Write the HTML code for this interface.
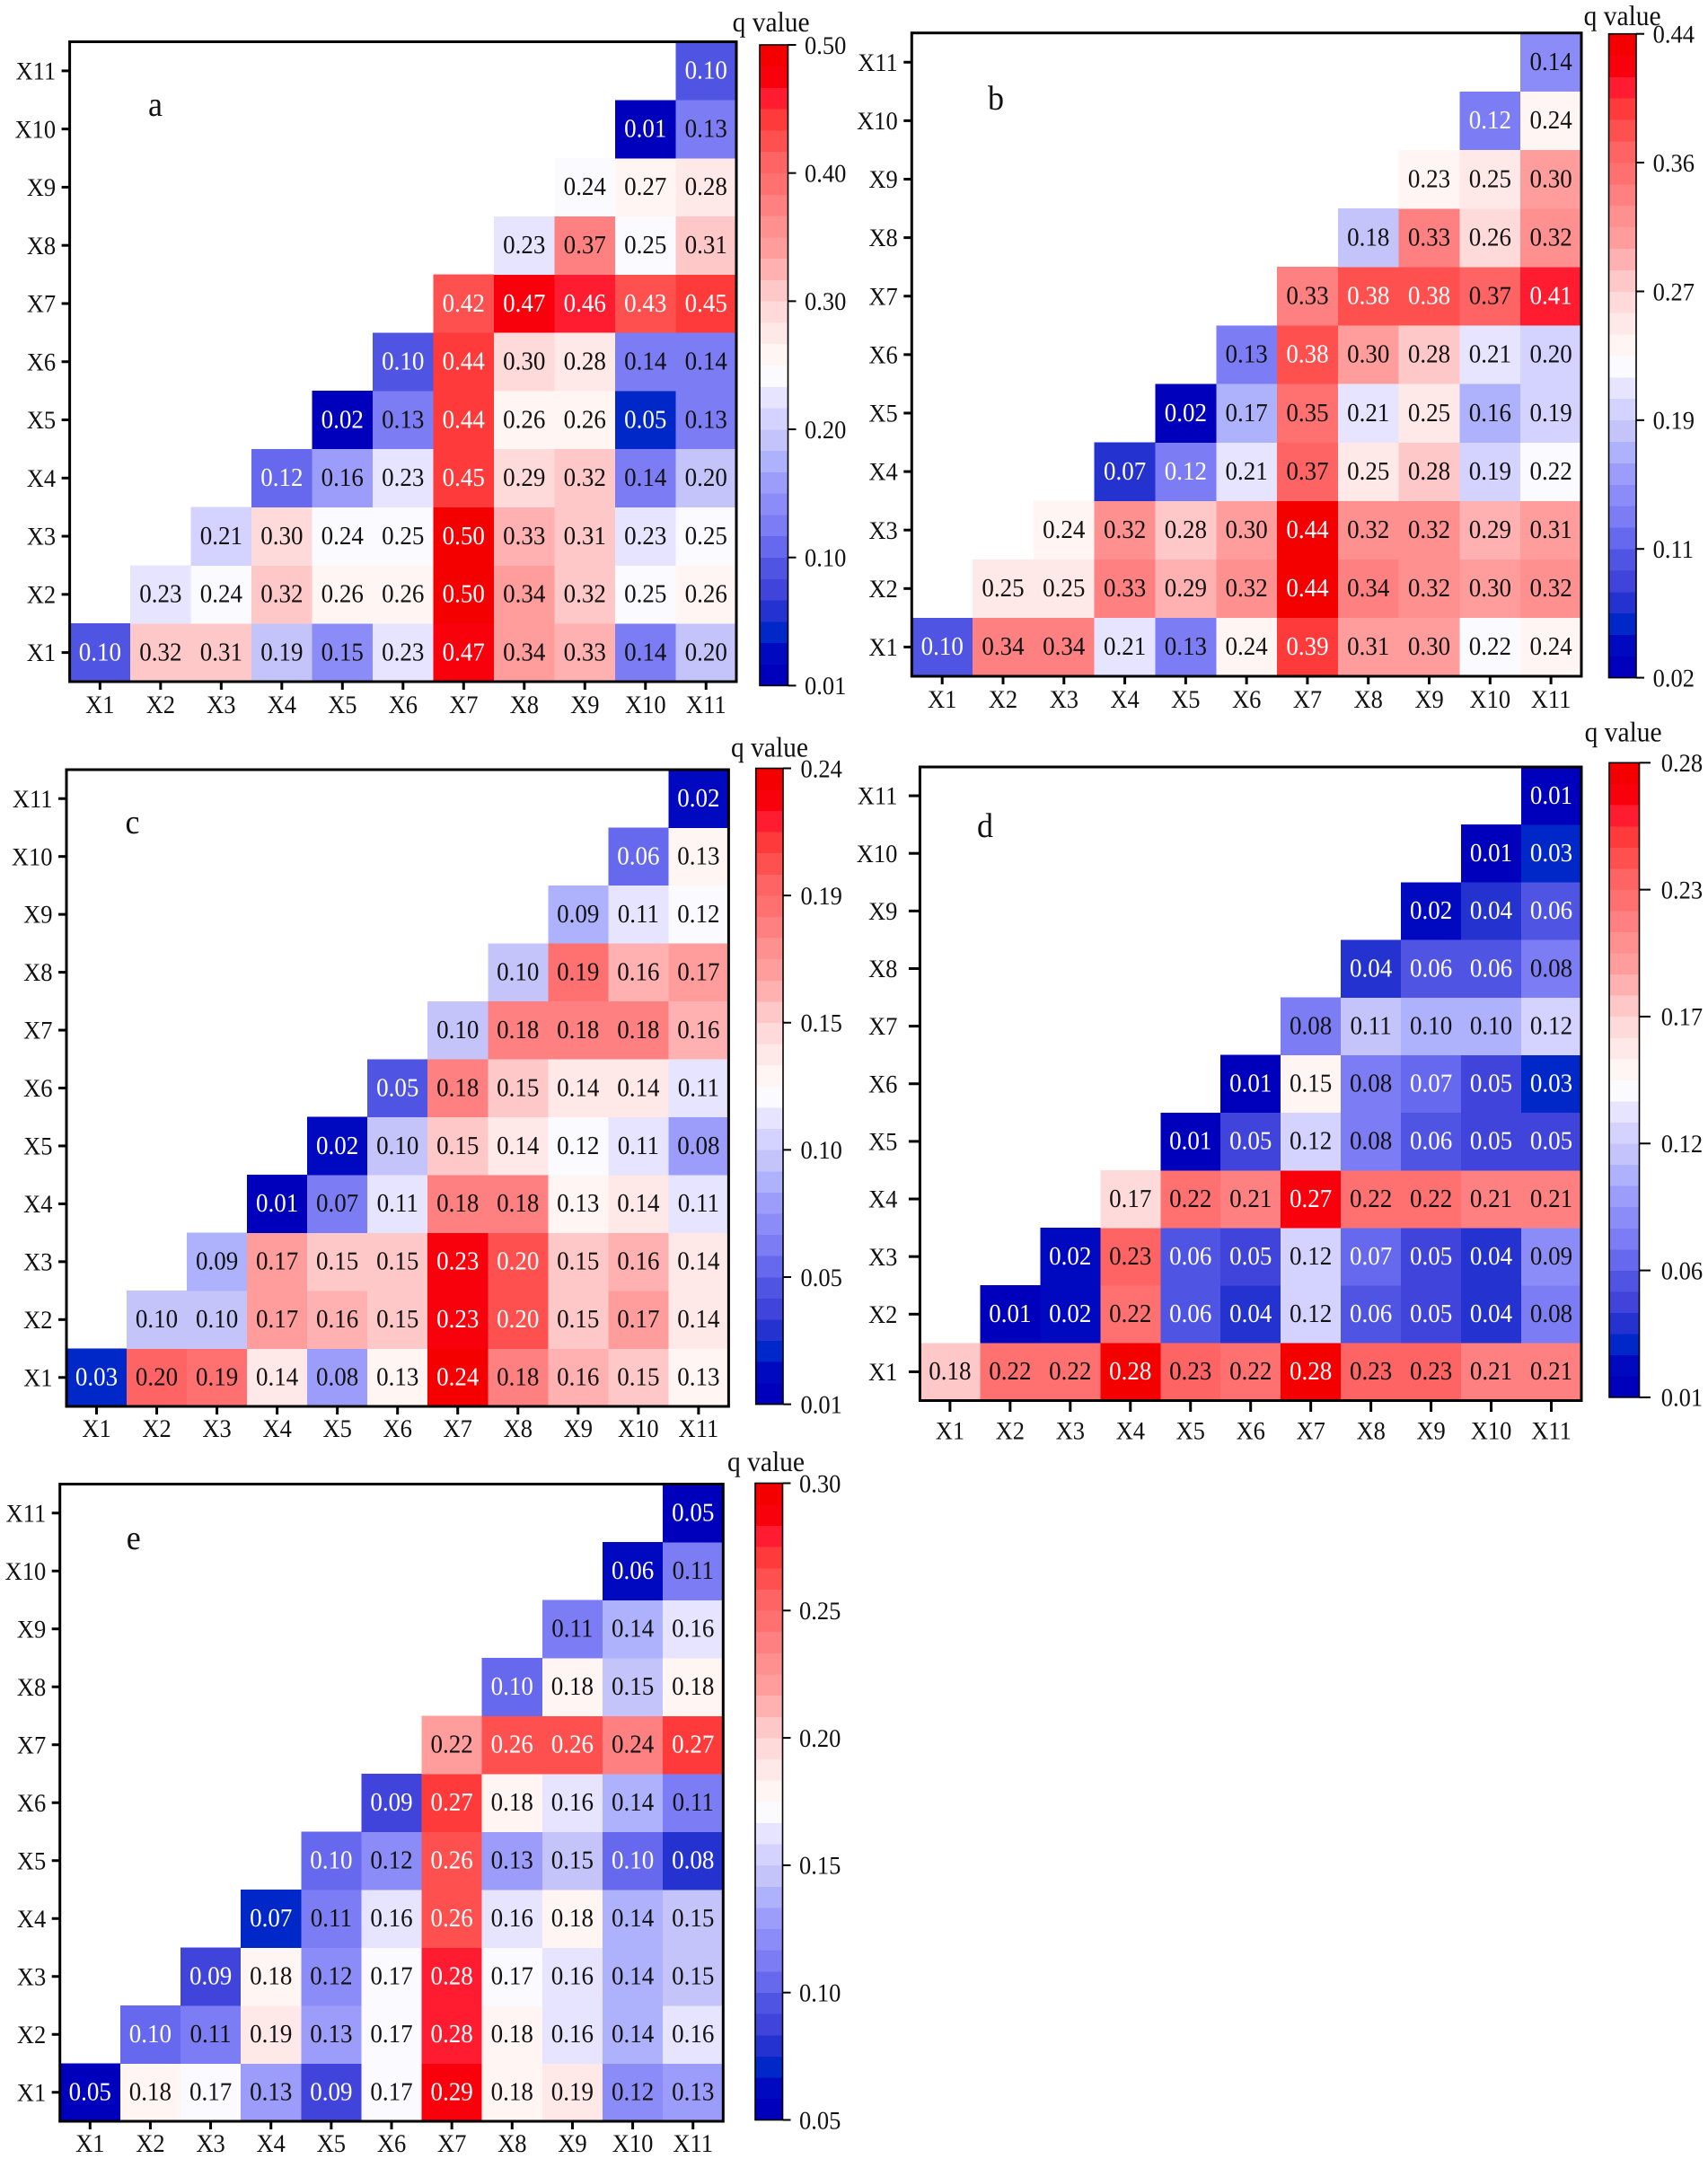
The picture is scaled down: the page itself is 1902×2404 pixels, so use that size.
<!DOCTYPE html>
<html lang="en">
<head>
<meta charset="utf-8">
<title>q value heatmaps</title>
<style>
html,body{margin:0;padding:0;background:#fff;}
#figure{display:block;width:1902px;height:2404px;font-family:"Liberation Serif",serif;text-rendering:geometricPrecision;}
</style>
</head>
<body>
<svg id="figure" xmlns="http://www.w3.org/2000/svg" width="1902" height="2404" viewBox="0 0 1902 2404"></svg>
<script>
const categories = ['X1','X2','X3','X4','X5','X6','X7','X8','X9','X10','X11'];

const rowsA = [
  [0.10,0.32,0.31,0.19,0.15,0.23,0.47,0.34,0.33,0.14,0.20],
  [0.23,0.24,0.32,0.26,0.26,0.50,0.34,0.32,0.25,0.26],
  [0.21,0.30,0.24,0.25,0.50,0.33,0.31,0.23,0.25],
  [0.12,0.16,0.23,0.45,0.29,0.32,0.14,0.20],
  [0.02,0.13,0.44,0.26,0.26,0.05,0.13],
  [0.10,0.44,0.30,0.28,0.14,0.14],
  [0.42,0.47,0.46,0.43,0.45],
  [0.23,0.37,0.25,0.31],
  [0.24,0.27,0.28],
  [0.01,0.13],
  [0.10]
];
const colorTicksA = ['0.01','0.10','0.20','0.30','0.40','0.50'];
const domainA = [0.01,0.50];

const rowsB = [
  [0.10,0.34,0.34,0.21,0.13,0.24,0.39,0.31,0.30,0.22,0.24],
  [0.25,0.25,0.33,0.29,0.32,0.44,0.34,0.32,0.30,0.32],
  [0.24,0.32,0.28,0.30,0.44,0.32,0.32,0.29,0.31],
  [0.07,0.12,0.21,0.37,0.25,0.28,0.19,0.22],
  [0.02,0.17,0.35,0.21,0.25,0.16,0.19],
  [0.13,0.38,0.30,0.28,0.21,0.20],
  [0.33,0.38,0.38,0.37,0.41],
  [0.18,0.33,0.26,0.32],
  [0.23,0.25,0.30],
  [0.12,0.24],
  [0.14]
];
const colorTicksB = ['0.02','0.11','0.19','0.27','0.36','0.44'];
const domainB = [0.02,0.44];

const rowsC = [
  [0.03,0.196,0.19,0.14,0.08,0.13,0.24,0.18,0.16,0.15,0.13],
  [0.10,0.10,0.17,0.16,0.15,0.23,0.204,0.15,0.17,0.14],
  [0.09,0.17,0.15,0.15,0.23,0.204,0.15,0.16,0.14],
  [0.01,0.07,0.11,0.18,0.18,0.13,0.14,0.11],
  [0.02,0.10,0.15,0.14,0.12,0.11,0.08],
  [0.05,0.18,0.15,0.14,0.14,0.11],
  [0.10,0.18,0.18,0.18,0.16],
  [0.10,0.19,0.16,0.17],
  [0.09,0.11,0.12],
  [0.06,0.13],
  [0.02]
];
const colorTicksC = ['0.01','0.05','0.10','0.15','0.19','0.24'];
const domainC = [0.01,0.24];

const rowsD = [
  [0.18,0.22,0.22,0.28,0.23,0.22,0.28,0.23,0.23,0.21,0.21],
  [0.01,0.02,0.22,0.06,0.04,0.12,0.06,0.05,0.04,0.08],
  [0.02,0.23,0.06,0.05,0.12,0.07,0.05,0.04,0.09],
  [0.17,0.22,0.21,0.27,0.22,0.22,0.21,0.21],
  [0.01,0.05,0.12,0.08,0.06,0.05,0.05],
  [0.01,0.15,0.08,0.07,0.05,0.03],
  [0.08,0.11,0.10,0.10,0.12],
  [0.04,0.06,0.06,0.08],
  [0.02,0.04,0.06],
  [0.01,0.03],
  [0.01]
];
const colorTicksD = ['0.01','0.06','0.12','0.17','0.23','0.28'];
const domainD = [0.01,0.28];

const rowsE = [
  [0.05,0.18,0.17,0.13,0.09,0.17,0.29,0.18,0.19,0.12,0.13],
  [0.10,0.11,0.19,0.13,0.17,0.28,0.18,0.16,0.14,0.16],
  [0.09,0.18,0.12,0.17,0.28,0.17,0.16,0.14,0.15],
  [0.07,0.11,0.16,0.26,0.16,0.18,0.14,0.15],
  [0.10,0.12,0.26,0.13,0.15,0.10,0.08],
  [0.09,0.27,0.18,0.16,0.14,0.11],
  [0.22,0.26,0.26,0.24,0.27],
  [0.10,0.18,0.15,0.18],
  [0.11,0.14,0.16],
  [0.06,0.11],
  [0.05]
];
const colorTicksE = ['0.05','0.10','0.15','0.20','0.25','0.30'];
const domainE = [0.05,0.30];

const legendTitle = 'q value';

const bandPalette = [
  '#0000bc','#0008c0','#0028c8','#2432d0','#4044da','#5054e2','#6668ee','#7c7cf5',
  '#8c8cf8','#9c9cfb','#aeb2fd','#c4c4fa','#d4d2ff','#e6e4ff','#fafaff',
  '#fff6f3','#ffe8e8','#ffdada','#ffc8c8','#ffb0b0','#ff9c9c','#ff9090','#ff8080',
  '#ff7070','#ff6464','#ff5050','#ff3a3a','#ff1c30','#f8000c','#f40000'
];

const panels = [
  {id:'a',rows:rowsA,ticks:colorTicksA,domain:domainA,l:77.6,r:820,t:46.5,b:759,cl:846,cr:877.5,ct:50,cb:763.4,labelX:896,titleX:815.6,titleY:35,letterX:165,letterY:129,tick:9,yGap:15.5,xLabelDy:35},
  {id:'b',rows:rowsB,ticks:colorTicksB,domain:domainB,l:1015.3,r:1761,t:36.7,b:753,cl:1791.5,cr:1822,ct:37.7,cb:754.6,labelX:1840.6,titleX:1763.6,titleY:28,letterX:1100,letterY:122,tick:9,yGap:15.5,xLabelDy:35},
  {id:'c',rows:rowsC,ticks:colorTicksC,domain:domainC,l:74,r:811.4,t:857,b:1566,cl:841.7,cr:872,ct:855.5,cb:1563.6,labelX:891.5,titleX:814,titleY:842.5,letterX:139.5,letterY:928,tick:9,yGap:15.5,xLabelDy:34},
  {id:'d',rows:rowsD,ticks:colorTicksD,domain:domainD,l:1024.4,r:1761,t:854,b:1559.5,cl:1792,cr:1825.5,ct:849.3,cb:1555.9,labelX:1849.7,titleX:1764.6,titleY:825.4,letterX:1088,letterY:932,tick:12.5,yGap:25,xLabelDy:43},
  {id:'e',rows:rowsE,ticks:colorTicksE,domain:domainE,l:66.7,r:805.3,t:1652.5,b:2362,cl:841,cr:871.5,ct:1651.5,cb:2360.5,labelX:890,titleX:810,titleY:1638,letterX:140.7,letterY:1725,tick:9,yGap:15.5,xLabelDy:34}
];

const NS = 'http://www.w3.org/2000/svg';
const INK = '#111';
const STRETCH = 1.07;
const figure = document.getElementById('figure');

function bandColor(t){
  const n=bandPalette.length;
  const i=Math.min(n-1,Math.max(0,Math.floor(t*n)));
  return bandPalette[i];
}
function makeGroup(parent){
  const g=document.createElementNS(NS,'g');
  parent.appendChild(g);
  return g;
}
function makeRect(parent,x,y,w,h,fill,stroke,sw){
  const r=document.createElementNS(NS,'rect');
  r.setAttribute('x',x);
  r.setAttribute('y',y);
  r.setAttribute('width',w);
  r.setAttribute('height',h);
  r.setAttribute('fill',fill);
  if(stroke){r.setAttribute('stroke',stroke);r.setAttribute('stroke-width',sw);}
  parent.appendChild(r);
  return r;
}
function makeLine(parent,x1,y1,x2,y2,sw){
  const l=document.createElementNS(NS,'line');
  l.setAttribute('x1',x1);
  l.setAttribute('y1',y1);
  l.setAttribute('x2',x2);
  l.setAttribute('y2',y2);
  l.setAttribute('stroke','#000');
  l.setAttribute('stroke-width',sw);
  parent.appendChild(l);
  return l;
}
function makeText(parent,str,x,y,anchor,size,fill){
  const t=document.createElementNS(NS,'text');
  t.setAttribute('transform','translate('+x+','+y+') scale(1,'+STRETCH+')');
  t.setAttribute('text-anchor',anchor);
  t.setAttribute('font-size',size);
  t.setAttribute('fill',fill);
  t.textContent=str;
  parent.appendChild(t);
  return t;
}

panels.forEach(function(p){
  const g=makeGroup(figure);
  
  

  const n=categories.length;
  const cw=(p.r-p.l)/n, ch=(p.b-p.t)/n;
  const xOf=function(col){return p.l+cw*col;};
  const yOf=function(row){return p.b-ch*(row+1);};
  const norm=function(v){return (v-p.domain[0])/(p.domain[1]-p.domain[0]);};

  const cells=makeGroup(g);
  
  
  p.rows.forEach(function(row,r){
    row.forEach(function(v,k){
      const col=r+k, t=norm(v);
      const rect=makeRect(cells,xOf(col),yOf(r),cw+0.3,ch+0.3,bandColor(t));
      rect.setAttribute('shape-rendering','crispEdges');
      
      
      const white=(t<0.239||t>0.835);
      const label=makeText(cells,v.toFixed(2),xOf(col)+cw/2,yOf(r)+ch/2+8.8,'middle',27,white?'#fff':INK);
      
      
    });
  });

  const frame=makeRect(g,p.l,p.t,p.r-p.l,p.b-p.t,'none','#000',3);
  
  

  categories.forEach(function(name,i){
    const cx=xOf(i)+cw/2;
    const xt=makeLine(g,cx,p.b,cx,p.b+p.tick,3);
    
    
    const xl=makeText(g,name,cx,p.b+p.xLabelDy,'middle',26.5,INK);
    
    
    const cy=yOf(i)+ch/2;
    const yt=makeLine(g,p.l-p.tick,cy,p.l,cy,3);
    
    
    const yl=makeText(g,name,p.l-p.yGap,cy+9.6,'end',26.5,INK);
    
    
  });

  const letter=makeText(g,p.id,p.letterX,p.letterY,'start',36,INK);
  
  

  const bar=makeGroup(g);
  
  
  const bands=bandPalette.length;
  const bh=(p.cb-p.ct)/bands;
  for(let i=0;i<bands;i++){
    const band=makeRect(bar,p.cl,p.cb-bh*(i+1),p.cr-p.cl,bh+0.3,bandColor((i+0.5)/bands));
    band.setAttribute('shape-rendering','crispEdges');
    
    
  }
  const outline=makeRect(bar,p.cl,p.ct,p.cr-p.cl,p.cb-p.ct,'none','#000',1.6);
  
  
  p.ticks.forEach(function(label,i){
    const y=p.cb-(p.cb-p.ct)*i/(p.ticks.length-1);
    const tk=makeLine(bar,p.cr,y,p.cr+p.tick,y,2);
    
    
    const tl=makeText(bar,label,p.labelX,y+9.8,'start',26.5,INK);
    
    
  });
  const title=makeText(g,legendTitle,p.titleX,p.titleY,'start',29.5,INK);
  
  
});
</script>
</body>
</html>
